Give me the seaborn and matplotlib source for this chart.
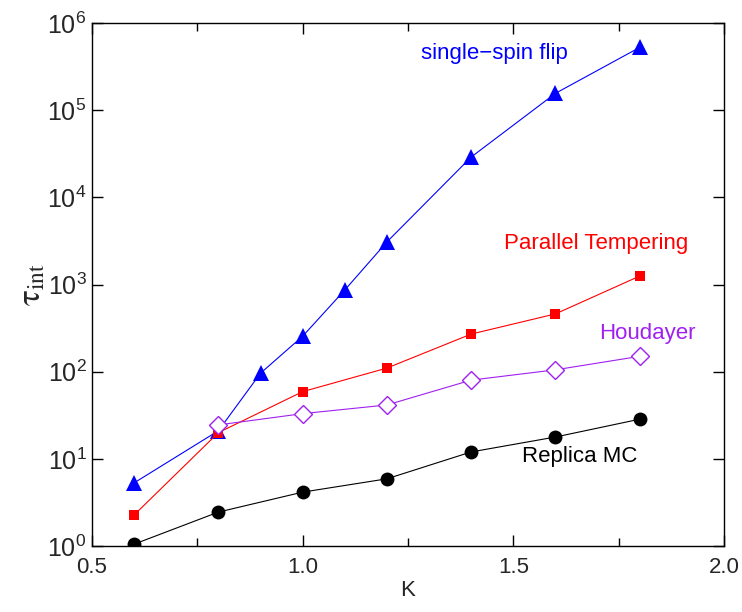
import numpy as np
import pandas as pd
import matplotlib
matplotlib.use("Agg")
import matplotlib.pyplot as plt
from matplotlib.ticker import FixedLocator, LogLocator, NullLocator
import seaborn as sns

# values
k_ssf = [0.6, 0.8, 0.9, 1.0, 1.1, 1.2, 1.4, 1.6, 1.8]
tau_ssf = [5.3, 21, 96, 255, 865, 3080, 29000, 156000, 525000]

k_pt = [0.6, 0.8, 1.0, 1.2, 1.4, 1.6, 1.8]
tau_pt = [2.27, 20, 59, 110, 270, 460, 1250]

k_hou = [0.8, 1.0, 1.2, 1.4, 1.6, 1.8]
tau_hou = [24.5, 33, 41.5, 80, 105, 150]

k_rmc = [0.6, 0.8, 1.0, 1.2, 1.4, 1.6, 1.8]
tau_rmc = [1.05, 2.45, 4.15, 5.9, 12, 17.8, 28.5]

x_ticks = [0.5, 1.0, 1.5, 2.0]
x_tick_labels = ["0.5", "1.0", "1.5", "2.0"]

sns.set_style("ticks")
plt.rcParams['font.family'] = ['Liberation Sans', 'DejaVu Sans']
plt.rcParams['mathtext.fontset'] = 'stix'

fig = plt.figure(figsize=(7.42, 6.12), dpi=100)
ax = fig.add_axes([92/742, 1 - 546/612, (724-92)/742, (546-23)/612])

blue, red, purple = "#0000ff", "#ff0000", "#a020f0"
lw = 0.8

sns.lineplot(x=k_ssf, y=tau_ssf, ax=ax, color=blue, linewidth=lw,
             marker='^', markersize=11, markeredgewidth=0, markerfacecolor=blue)
sns.lineplot(x=k_pt, y=tau_pt, ax=ax, color=red, linewidth=lw,
             marker='s', markersize=7, markeredgewidth=0, markerfacecolor=red)
sns.lineplot(x=k_hou, y=tau_hou, ax=ax, color=purple, linewidth=lw,
             marker='D', markersize=9, markeredgewidth=1,
             markerfacecolor='white', markeredgecolor=purple)
sns.lineplot(x=k_rmc, y=tau_rmc, ax=ax, color='black', linewidth=lw,
             marker='o', markersize=10, markeredgewidth=0, markerfacecolor='black')

ax.set_yscale('log')
ax.set_xlim(0.5, 2.0)
ax.set_ylim(1, 1e6)
ax.xaxis.set_major_locator(FixedLocator(x_ticks))
ax.set_xticklabels(x_tick_labels)
ax.xaxis.set_minor_locator(FixedLocator([0.75, 1.25, 1.75]))
ax.yaxis.set_major_locator(LogLocator(base=10, numticks=10))
ax.yaxis.set_minor_locator(NullLocator())

ax.tick_params(which='both', direction='in', top=True, right=True,
               width=1, color='black')
ax.tick_params(axis='x', labelsize=16, pad=8)
ax.tick_params(axis='y', labelsize=18, pad=4)
ax.tick_params(which='major', length=8)
ax.tick_params(which='minor', length=6)
for s in ax.spines.values():
    s.set_linewidth(1)
    s.set_color('black')

ax.set_xlabel("K", fontsize=16, labelpad=1)
ax.set_ylabel(r"$\mathrm{\tau}_{\mathrm{int}}$", fontsize=24, labelpad=0)

ax.text(1.454, 4.5e5, "single\u2212spin flip", color=blue, fontsize=16,
        ha='center', va='center')
ax.text(1.696, 2960, "Parallel Tempering", color=red, fontsize=16,
        ha='center', va='center')
ax.text(1.817, 277, "Houdayer", color=purple, fontsize=16,
        ha='center', va='center')
ax.text(1.658, 10.5, "Replica MC", color='black', fontsize=16,
        ha='center', va='center')

plt.savefig("out.png", dpi=100)
